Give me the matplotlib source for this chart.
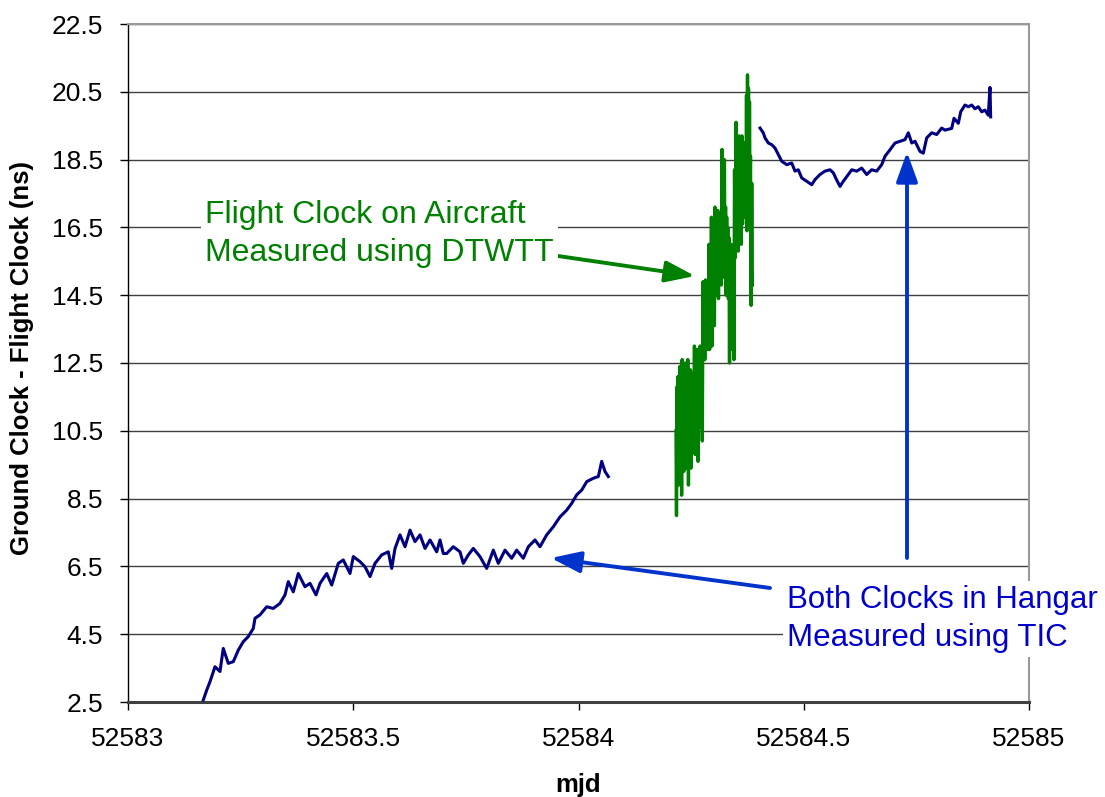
import numpy as np
import matplotlib
matplotlib.use("Agg")
import matplotlib.pyplot as plt

plt.rcParams['font.family'] = ['Liberation Sans', 'DejaVu Sans']

# ---------------- data ----------------
# Blue series, hangar period (TIC)
hangar_x = [52583.1671, 52583.1747, 52583.1820, 52583.1931, 52583.2042, 52583.2115,
            52583.2226, 52583.2337, 52583.2448, 52583.2559, 52583.2670, 52583.2781,
            52583.2819, 52583.2930, 52583.3079, 52583.3225, 52583.3374, 52583.3485,
            52583.3558, 52583.3669, 52583.3780, 52583.3929, 52583.4040, 52583.4173,
            52583.4262, 52583.4411, 52583.4522, 52583.4668, 52583.4779, 52583.4928,
            52583.5001, 52583.5150, 52583.5261, 52583.5372, 52583.5483, 52583.5632,
            52583.5778, 52583.5853, 52583.5927, 52583.6038, 52583.6149, 52583.6260,
            52583.6371, 52583.6482, 52583.6593, 52583.6704, 52583.6852, 52583.6926,
            52583.6999, 52583.7074, 52583.7221, 52583.7370, 52583.7443, 52583.7554,
            52583.7665, 52583.7813, 52583.7962, 52583.8109, 52583.8220, 52583.8368,
            52583.8517, 52583.8628, 52583.8775, 52583.8886, 52583.9034, 52583.9145,
            52583.9294, 52583.9441, 52583.9589, 52583.9738, 52583.9849, 52583.9960,
            52584.0071, 52584.0182, 52584.0329, 52584.0440, 52584.0515, 52584.0588,
            52584.0662]
hangar_y = [2.56, 2.85, 3.10, 3.54, 3.40, 4.08,
            3.64, 3.69, 4.03, 4.28, 4.43, 4.67,
            4.97, 5.07, 5.31, 5.26, 5.41, 5.66,
            6.05, 5.75, 6.29, 5.90, 6.00, 5.66,
            6.00, 6.29, 5.95, 6.59, 6.69, 6.29,
            6.79, 6.64, 6.49, 6.20, 6.59, 6.84,
            6.93, 6.44, 7.03, 7.43, 7.08, 7.57,
            7.23, 7.43, 7.03, 7.28, 6.93, 7.28,
            6.88, 6.88, 7.08, 6.93, 6.59, 6.84,
            7.03, 6.79, 6.44, 6.98, 6.59, 6.98,
            6.74, 6.98, 6.74, 7.08, 7.28, 7.08,
            7.43, 7.67, 7.96, 8.16, 8.36, 8.61,
            8.75, 9.00, 9.10, 9.15, 9.60, 9.30,
            9.15]

# Blue series, after landing (TIC)
landed_x = [52584.4029, 52584.4102, 52584.4140, 52584.4213, 52584.4289, 52584.4362,
            52584.4435, 52584.4511, 52584.4622, 52584.4733, 52584.4806, 52584.4879,
            52584.4955, 52584.5066, 52584.5177, 52584.5250, 52584.5361, 52584.5472,
            52584.5583, 52584.5656, 52584.5745, 52584.5805, 52584.5878, 52584.5989,
            52584.6065, 52584.6176, 52584.6286, 52584.6397, 52584.6508, 52584.6619,
            52584.6730, 52584.6804, 52584.6915, 52584.7026, 52584.7137, 52584.7248,
            52584.7321, 52584.7397, 52584.7470, 52584.7581, 52584.7654, 52584.7729,
            52584.7840, 52584.7951, 52584.8062, 52584.8135, 52584.8284, 52584.8335,
            52584.8431, 52584.8484, 52584.8579, 52584.8652, 52584.8728, 52584.8801,
            52584.8874, 52584.8950, 52584.9023, 52584.9096, 52584.9134, 52584.9149]
landed_y = [19.43, 19.29, 19.14, 18.99, 18.94, 18.84,
            18.65, 18.45, 18.35, 18.40, 18.16, 18.20,
            17.96, 17.86, 17.76, 17.91, 18.06, 18.16,
            18.20, 18.11, 17.86, 17.71, 17.86, 18.06,
            18.20, 18.16, 18.25, 18.06, 18.20, 18.16,
            18.35, 18.60, 18.79, 18.99, 19.04, 19.09,
            19.29, 18.99, 19.04, 18.74, 18.69, 19.14,
            19.29, 19.24, 19.43, 19.37, 19.42, 19.72,
            19.57, 19.91, 20.11, 20.06, 20.11, 20.00,
            20.06, 19.91, 19.96, 19.81, 20.63, 19.76]

# Green series, flight (DTWTT): chunks of (start mjd, end mjd, values)
flight_chunks = [
    (52584.2164, 52584.2253, [10.5, 8.0, 11.8, 9.2, 12.1, 8.9, 11.5, 9.6]),
    (52584.2253, 52584.2397, [12.4, 9.0, 11.9, 8.6, 12.6, 9.8, 12.2, 9.3, 11.6, 10.1, 12.5, 9.4]),
    (52584.2397, 52584.2542, [12.0, 9.5, 12.6, 8.9, 11.7, 10.0, 12.3, 9.4, 11.0, 9.9]),
    (52584.2542, 52584.2764, [12.2, 10.4, 13.0, 9.8, 12.4, 10.8, 12.9, 9.6, 12.0, 10.6, 13.0, 11.2, 12.5, 10.2]),
    (52584.2764, 52584.2897, [14.9, 12.8, 14.4, 12.6, 14.95, 13.2, 14.2, 12.9, 14.7, 13.5]),
    (52584.2897, 52584.3030, [16.0, 12.9, 15.4, 13.4, 16.8, 13.0, 15.9, 14.0, 16.3, 13.6]),
    (52584.3030, 52584.3185, [17.1, 14.5, 16.4, 15.0, 17.0, 14.4, 16.6, 15.3, 16.9, 14.8]),
    (52584.3185, 52584.3252, [18.8, 15.4, 18.2, 15.2, 18.5]),
    (52584.3252, 52584.3352, [15.0, 17.1, 14.5, 16.8, 14.9, 16.5, 14.4, 16.2]),
    (52584.3352, 52584.3463, [12.5, 15.8, 13.5, 16.0, 12.9, 15.4, 13.8, 15.9, 12.6]),
    (52584.3463, 52584.3629, [18.2, 15.6, 19.6, 16.4, 18.8, 15.8, 19.2, 16.8, 18.4, 16.0]),
    (52584.3629, 52584.3729, [19.2, 16.6, 18.8, 17.2, 19.0, 16.8, 18.5, 17.0]),
    (52584.3729, 52584.3818, [20.4, 16.4, 21.0, 17.5, 20.6, 16.8, 20.2, 17.3]),
    (52584.3818, 52584.3873, [18.6, 14.2, 17.8, 14.8]),
]
flight_x = np.concatenate([np.linspace(a, b, len(v), endpoint=False) for a, b, v in flight_chunks])
flight_y = np.concatenate([v for a, b, v in flight_chunks])

x_ticks = [52583, 52583.5, 52584, 52584.5, 52585]
x_labels = ['52583', '52583.5', '52584', '52584.5', '52585']
y_ticks = [2.5, 4.5, 6.5, 8.5, 10.5, 12.5, 14.5, 16.5, 18.5, 20.5, 22.5]
y_labels = ['2.5', '4.5', '6.5', '8.5', '10.5', '12.5', '14.5', '16.5', '18.5', '20.5', '22.5']

# ---------------- figure ----------------
W, H = 1105, 797
fig = plt.figure(figsize=(W / 100, H / 100), dpi=100)
ax = fig.add_axes([128 / W, (H - 702) / H, (1029 - 128) / W, (702 - 24) / H])

NAVY = '#000080'
GREEN = '#008000'
ax.plot(hangar_x, hangar_y, color=NAVY, lw=2.2, zorder=3)
ax.plot(landed_x, landed_y, color=NAVY, lw=2.2, zorder=3)
ax.plot(flight_x, flight_y, color=GREEN, lw=2.4, zorder=3)

ax.set_xlim(52583, 52585)
ax.set_ylim(2.5, 22.5)
ax.set_xticks(x_ticks)
ax.set_xticklabels(x_labels)
ax.set_yticks(y_ticks)
ax.set_yticklabels(y_labels)
ax.yaxis.grid(True, color='#404040', lw=1.0)
ax.xaxis.grid(False)
ax.set_axisbelow(True)

for s in ('top', 'right'):
    ax.spines[s].set_color('#9a9a9a')
    ax.spines[s].set_linewidth(1.5)
ax.spines['left'].set_color('black')
ax.spines['left'].set_linewidth(1.0)
ax.spines['bottom'].set_color('#404040')
ax.spines['bottom'].set_linewidth(2.2)

ax.tick_params(axis='both', direction='out', length=6, width=1, color='black',
               labelsize=19, pad=12)
ax.set_xlabel('mjd', fontsize=18.5, fontweight='bold', labelpad=16)
ax.set_ylabel('Ground Clock - Flight Clock (ns)', fontsize=18.5, fontweight='bold')
ax.yaxis.set_label_coords(-0.104, 0.507)

# ---------------- annotations ----------------
def fx(px):
    return px / W

def fy(py):
    return 1 - py / H

fig.text(fx(205), fy(234), 'Flight Clock on Aircraft\nMeasured using DTWTT',
         color=GREEN, fontsize=23, ha='left', va='center', linespacing=1.38,
         bbox=dict(facecolor='white', edgecolor='none', pad=3), zorder=5)

fig.text(fx(787), fy(619), 'Both Clocks in Hangar\nMeasured using TIC',
         color='#0000CC', fontsize=22.5, ha='left', va='center', linespacing=1.38,
         bbox=dict(facecolor='white', edgecolor='none', pad=3), zorder=5)

ARROW_BLUE = '#0033CC'

def arrow(tail, tip, color, hl=1.8, hw=0.65, lw=2.8):
    ax.annotate('', xy=(fx(tip[0]), fy(tip[1])), xytext=(fx(tail[0]), fy(tail[1])),
                xycoords='figure fraction', textcoords='figure fraction',
                arrowprops=dict(arrowstyle=f'-|>,head_length={hl},head_width={hw}',
                                color=color, lw=lw, shrinkA=0, shrinkB=0,
                                mutation_scale=10), zorder=6, annotation_clip=False)

arrow((558, 256), (695, 276), GREEN)
arrow((770, 588), (551, 558), ARROW_BLUE)
arrow((907, 558), (907, 152), ARROW_BLUE)

fig.savefig('out.png', dpi=100)
